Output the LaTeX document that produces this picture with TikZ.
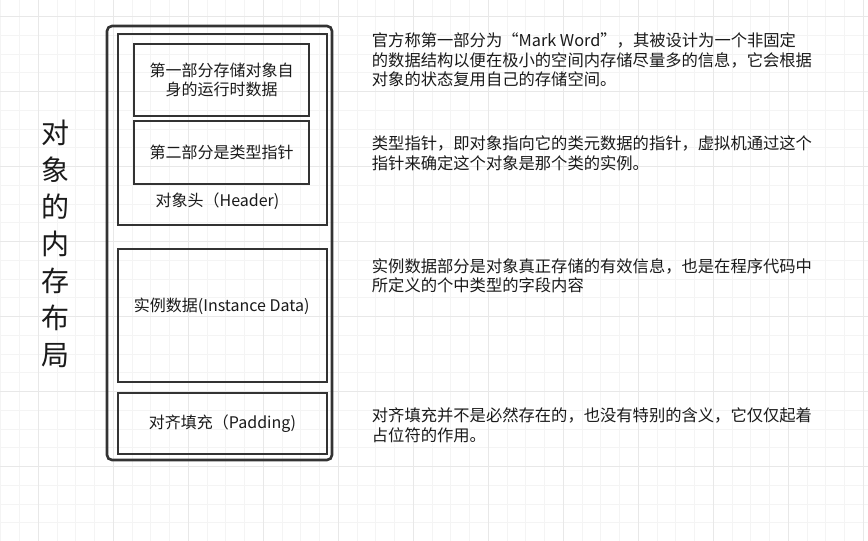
\documentclass[tikz,border=0pt]{standalone}
\usepackage{fontspec}
\setmainfont{Noto Sans CJK SC}

\definecolor{gridminor}{HTML}{F4F4F4}
\definecolor{gridmajor}{HTML}{E8E8E8}
\definecolor{edge}{HTML}{333333}
\definecolor{ink}{HTML}{1A1A1A}

\begin{document}
\begin{tikzpicture}[x=1pt,y=-1pt,
  frame/.style={draw=edge,line width=2.6pt,rounded corners=5pt,
    minimum width=225pt,minimum height=434pt},
  block/.style={draw=edge,line width=2pt,minimum width=208.4pt,
    inner sep=0pt,align=center,text=ink,font=\fontsize{16}{19}\selectfont},
  caption/.style={inner sep=0pt,text=ink,font=\fontsize{16}{19}\selectfont},
  note/.style={anchor=north west,align=left,inner sep=0pt,text=ink,
    font=\fontsize{16.3}{19.6}\selectfont},
  title/.style={align=center,inner sep=0pt,text=ink,
    font=\fontsize{28}{37}\selectfont}
]
  \useasboundingbox[fill=white] (0,0) rectangle (868,541);

  % grid paper
  \foreach \gx in {0.8,19.55,...,868}
    \draw[gridminor,line width=1pt] (\gx,0) -- (\gx,541);
  \foreach \gy in {16.7,35.45,...,541}
    \draw[gridminor,line width=1pt] (0,\gy) -- (868,\gy);
  \foreach \gx in {38.3,113.3,...,868}
    \draw[gridmajor,line width=1pt] (\gx,0) -- (\gx,541);
  \foreach \gy in {16.7,91.7,...,541}
    \draw[gridmajor,line width=1pt] (0,\gy) -- (868,\gy);

  \node[title] (heading) at (55,244.2) {对\\象\\的\\内\\存\\布\\局};

  % the object in memory
  \node[frame] (object) at (219.5,243) {};
  \node[block,minimum height=191pt] (header) at (222.5,129.5) {};
  \node[block,minimum width=175.3pt,minimum height=72pt] (markword)
    at (221.7,79.5) {第一部分存储对象自\\身的运行时数据};
  \node[block,minimum width=175.3pt,minimum height=63.3pt] (klass)
    at (221.7,152.7) {第二部分是类型指针};
  \node[caption] (headertext) at (217.5,201.7) {对象头（Header)};
  \node[block,minimum height=132.4pt] (instance) at (222.5,315.5) {};
  \node[caption] (instancetext) at (221.7,306.7) {实例数据(Instance Data)};
  \node[block,minimum height=60.4pt] (padding) at (222.5,423.5)
    {对齐填充（Padding)};

  % explanations
  \node[note] (markwordnote) at (371.7,32.5)
    {官方称第一部分为“Mark Word”，其被设计为一个非固定\\
     的数据结构以便在极小的空间内存储尽量多的信息，它会根据\\
     对象的状态复用自己的存储空间。};
  \node[note] (klassnote) at (371.7,135.8)
    {类型指针，即对象指向它的类元数据的指针，虚拟机通过这个\\
     指针来确定这个对象是那个类的实例。};
  \node[note] (instancenote) at (371.7,258.2)
    {实例数据部分是对象真正存储的有效信息，也是在程序代码中\\
     所定义的个中类型的字段内容};
  \node[note] (paddingnote) at (371.7,407.5)
    {对齐填充并不是必然存在的，也没有特别的含义，它仅仅起着\\
     占位符的作用。};
\end{tikzpicture}
\end{document}
